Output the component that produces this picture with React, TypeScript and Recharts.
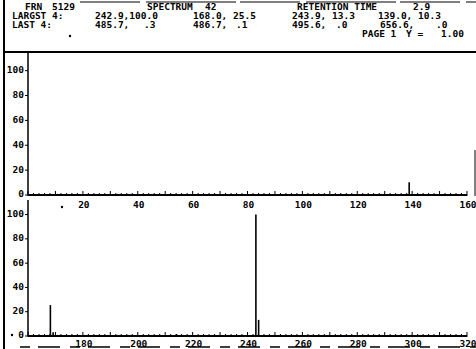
import { Bar, ComposedChart, XAxis, YAxis } from "recharts"

// peaks (m/z, relative intensity)
const topMasses = [139.0]
const topIntensities = [10.3]
const bottomMasses = [168.0, 169.0, 214.0, 242.9, 243.9]
const bottomIntensities = [25.5, 3.0, 1.5, 100.0, 13.3]

const yTicks = [0, 20, 40, 60, 80, 100]
const topXLabels = [20, 40, 60, 80, 100, 120, 140, 160]
const bottomXLabels = [180, 200, 220, 240, 260, 280, 300, 320]

const headerLines = [
  [{ x: 25, t: "FRN" }, { x: 52, t: "5129" }, { x: 147, t: "SPECTRUM" }, { x: 205, t: "42" }, { x: 297, t: "RETENTION TIME" }, { x: 413, t: "2.9" }],
  [{ x: 12, t: "LARGST 4:" }, { x: 95, t: "242.9,100.0" }, { x: 193, t: "168.0, 25.5" }, { x: 292, t: "243.9, 13.3" }, { x: 378, t: "139.0, 10.3" }],
  [{ x: 12, t: "LAST 4:" }, { x: 95, t: "485.7," }, { x: 144, t: ".3" }, { x: 193, t: "486.7," }, { x: 236, t: ".1" }, { x: 292, t: "495.6," }, { x: 336, t: ".0" }, { x: 380, t: "656.6," }, { x: 436, t: ".0" }],
  [{ x: 362, t: "PAGE 1" }, { x: 406, t: "Y =" }, { x: 441, t: "1.00" }],
]
const headerBaselines = [10, 19, 28, 37]

const mono = "'DejaVu Sans Mono', monospace"

const topData = topMasses.map((m, i) => ({ mass: m, intensity: topIntensities[i] }))
const bottomData = bottomMasses.map((m, i) => ({ mass: m, intensity: bottomIntensities[i] }))

const minorTicks = (from: number, to: number) =>
  Array.from({ length: (to - from) / 2 + 1 }, (_, i) => from + i * 2)

const MassTick = (props: any) => {
  const { x, y, payload, labels, labelOffset } = props
  const v = payload.value
  const major = v % 10 === 0
  return (
    <g>
      <line x1={x} x2={x} y1={y - (major ? 4 : 2)} y2={y + 1} stroke="#000" strokeWidth={1} />
      {labels.includes(v) && (
        <text x={x + 1} y={y + labelOffset} textAnchor="middle" fontFamily={mono} fontWeight="bold" fontSize={9.5} fill="#000">
          {v}
        </text>
      )}
    </g>
  )
}

const IntensityTick = (props: any) => {
  const { x, y, payload } = props
  return (
    <text x={x} y={y - 1} dy="0.355em" textAnchor="end" fontFamily={mono} fontWeight="bold" fontSize={9.5} fill="#000">
      {payload.value}
    </text>
  )
}

const Panel = ({ data, domain, yMax, labels, plotHeight, axisHeight, labelOffset }: any) => (
  <ComposedChart width={476} height={plotHeight + axisHeight} data={data} margin={{ top: 0, right: 9, bottom: 0, left: 0 }}>
    <XAxis
      dataKey="mass"
      type="number"
      domain={domain}
      ticks={minorTicks(domain[0], domain[1])}
      interval={0}
      tickSize={0}
      tickMargin={0}
      tickLine={false}
      axisLine={{ stroke: "#000", strokeWidth: 2 }}
      height={axisHeight}
      tick={<MassTick labels={labels} labelOffset={labelOffset} />}
    />
    <YAxis
      type="number"
      domain={[0, yMax]}
      ticks={yTicks}
      width={28}
      tickSize={3}
      tickMargin={1}
      axisLine={{ stroke: "#000", strokeWidth: 1.5 }}
      tickLine={{ stroke: "#000" }}
      tick={<IntensityTick />}
    />
    <Bar dataKey="intensity" fill="#000" barSize={1.6} isAnimationActive={false} />
  </ComposedChart>
)

export default function App() {
  return (
    <div style={{ position: "absolute", left: 0, top: 0, width: 476, height: 349, background: "#fff", overflow: "hidden" }}>
      <svg width={476} height={349} style={{ position: "absolute", left: 0, top: 0 }}>
        <line x1={4} x2={4} y1={0} y2={349} stroke="#000" strokeWidth={2} />
        <line x1={80} x2={476} y1={2} y2={2} stroke="#000" strokeWidth={1.2} strokeDasharray="60 6 90 4" />
        <line x1={4} x2={476} y1={52} y2={52} stroke="#000" strokeWidth={2} />
        <line x1={20} x2={476} y1={347} y2={347} stroke="#000" strokeWidth={1.5} strokeDasharray="10 8 22 10" />
        <line x1={475} x2={475} y1={150} y2={196} stroke="#000" strokeWidth={1} />
        {headerLines.map((line, li) =>
          line.map((s, si) => (
            <text key={`${li}-${si}`} x={s.x} y={headerBaselines[li]} fontFamily={mono} fontWeight="bold" fontSize={9.5} fill="#000">
              {s.t}
            </text>
          ))
        )}
        <circle cx={70} cy={36} r={1.2} fill="#000" />
        <circle cx={62} cy={207} r={1.2} fill="#000" />
        <circle cx={12} cy={335} r={1.2} fill="#000" />
      </svg>
      <div style={{ position: "absolute", left: 0, top: 52 }}>
        <Panel data={topData} domain={[0, 160]} yMax={115} labels={topXLabels} plotHeight={143} axisHeight={16} labelOffset={13} />
      </div>
      <div style={{ position: "absolute", left: 0, top: 200 }}>
        <Panel data={bottomData} domain={[160, 320]} yMax={112} labels={bottomXLabels} plotHeight={136} axisHeight={13} labelOffset={11} />
      </div>
    </div>
  )
}
